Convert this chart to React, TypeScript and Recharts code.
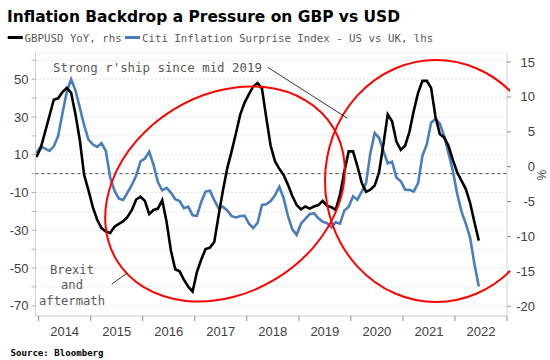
import React from 'react';
import { LineChart, Line, XAxis, YAxis, CartesianGrid, ReferenceLine } from 'recharts';

// monthly, Dec 2013 .. Jun 2022
const START_YEAR = 2013;
const START_MONTH = 12;

// GBPUSD YoY %, rhs
const gbpusdYoY = [
  1.4,
  2.7, 5.0, 7.3, 9.6, 9.8, 10.7, 11.3, 10.6, 7.5, 3.8, -1.2, -3.4, // 2014
  -5.8, -7.6, -8.8, -9.3, -9.5, -8.6, -8.2, -7.8, -7.2, -6.2, -4.7, -4.3, // 2015
  -4.9, -6.8, -6.2, -6.0, -4.8, -7.9, -12.0, -14.7, -15.0, -16.2, -17.2, -17.9, // 2016
  -15.1, -13.3, -11.8, -11.6, -10.8, -7.0, -3.4, -0.2, 2.2, 4.8, 7.5, 9.2, // 2017
  10.4, 11.5, 12.0, 11.2, 7.0, 3.0, 0.8, -0.3, -1.2, -2.6, -4.2, -5.5, // 2018
  -6.1, -5.7, -6.0, -5.7, -5.5, -4.9, -5.6, -5.8, -6.2, -4.0, -0.7, 2.2, // 2019
  2.2, 0.1, -2.3, -3.6, -3.3, -2.7, -0.8, 3.2, 7.5, 6.5, 3.6, 2.4, // 2020
  3.0, 5.0, 8.0, 10.6, 12.3, 12.3, 11.3, 7.2, 4.7, 4.2, 3.0, 1.0, // 2021
  -0.8, -2.0, -3.2, -5.2, -8.0, -10.6, // 2022
];

// Citi Inflation Surprise Index - US vs UK, lhs
const citiSurprise = [
  10.8,
  14.4, 13.2, 12.0, 14.5, 20.0, 32.0, 43.4, 50.0, 44.0, 35.0, 25.5, 18.0, // 2014
  15.5, 14.2, 16.1, 12.0, -2.0, -9.0, -13.2, -13.9, -10.0, -6.0, -1.0, 6.5, // 2015
  8.0, 11.6, 4.6, -4.5, -8.8, -7.5, -10.0, -13.5, -14.5, -18.3, -17.5, -22.0, // 2016
  -22.3, -15.0, -9.5, -9.0, -14.0, -18.3, -17.5, -19.5, -22.5, -23.2, -22.4, -22.3, // 2017
  -26.5, -28.8, -26.0, -16.6, -16.2, -14.5, -11.5, -6.9, -13.0, -22.5, -29.5, -32.4, // 2018
  -26.5, -24.0, -21.5, -21.0, -23.6, -25.5, -26.2, -28.5, -25.8, -26.5, -19.5, -17.5, // 2019
  -12.0, -13.8, -9.5, -5.0, 11.0, 21.5, 19.0, 12.0, 5.5, 6.3, -2.0, -4.0, // 2020
  -8.5, -8.6, -9.5, -5.0, 9.5, 15.5, 27.0, 29.0, 26.5, 20.0, 11.0, 1.5, // 2021
  -10.5, -20.0, -26.5, -34.0, -48.0, -59.8, // 2022
];

const yearLabels = [2014, 2015, 2016, 2017, 2018, 2019, 2020, 2021, 2022];
const yearBreaks = [2014, 2015, 2016, 2017, 2018, 2019, 2020, 2021, 2022, 2023];
const leftTicks = [60, 50, 40, 30, 20, 10, 0, -10, -20, -30, -40, -50, -60, -70];
const leftLabels = [50, 30, 10, -10, -30, -50, -70];
const rightTicks = [15, 10, 5, 0, -5, -10, -15, -20];

const data = gbpusdYoY.map((v, i) => ({
  t: START_YEAR + (START_MONTH - 1 + i + 0.5) / 12,
  gbp: v,
  citi: citiSurprise[i],
}));

const xTicks = [...yearBreaks, ...yearLabels.map(y => y + 0.5)].sort((a, b) => a - b);

const LABEL_FONT = '"Liberation Sans", Arial, sans-serif';
const MONO = '"DejaVu Sans Mono", monospace';
const PLOT_TOP = 53;
const PLOT_BOTTOM = 316;
const PLOT_LEFT = 35.5;
const PLOT_RIGHT = 507;

const XTick = (props: any) => {
  const { x, payload } = props;
  const v = payload.value;
  if (Number.isInteger(v)) {
    return <line x1={x} x2={x} y1={PLOT_BOTTOM} y2={PLOT_BOTTOM + 5} stroke="#8c8c8c" strokeWidth={1} />;
  }
  return (
    <text x={x} y={336} textAnchor="middle" fontFamily={LABEL_FONT} fontSize={13} fill="#404040">
      {Math.floor(v)}
    </text>
  );
};

const LeftTick = (props: any) => {
  const { y, payload } = props;
  return (
    <g>
      <line x1={PLOT_LEFT - 4} x2={PLOT_LEFT} y1={y} y2={y} stroke="#b0b0b0" />
      {leftLabels.includes(payload.value) && (
        <text x={28.5} y={y + 4.5} textAnchor="end" fontFamily={LABEL_FONT} fontSize={13} fill="#404040">
          {payload.value}
        </text>
      )}
    </g>
  );
};

const RightTick = (props: any) => {
  const { y, payload } = props;
  return (
    <g>
      <line x1={PLOT_RIGHT} x2={PLOT_RIGHT + 4} y1={y} y2={y} stroke="#8c8c8c" />
      <text x={535} y={y + 4.5} textAnchor="end" fontFamily={LABEL_FONT} fontSize={13} fill="#404040">
        {payload.value}
      </text>
    </g>
  );
};

const Overlay = () => (
  <svg width={550} height={360} style={{ position: 'absolute', left: 0, top: 0, pointerEvents: 'none' }}>
    <defs>
      <clipPath id="plotClip">
        <rect x={0} y={0} width={510} height={360} />
      </clipPath>
    </defs>
    <text x={7} y={21.5} fontFamily='"DejaVu Sans", sans-serif' fontWeight="bold" fontSize={15}
      textLength={393} lengthAdjust="spacingAndGlyphs" fill="#000">
      Inflation Backdrop a Pressure on GBP vs USD
    </text>

    <line x1={7.7} x2={22.8} y1={37.5} y2={37.5} stroke="#000" strokeWidth={3} />
    <text x={24.6} y={41.5} fontFamily={MONO} fontSize={10.75} fill="#595959">GBPUSD YoY, rhs</text>
    <line x1={125} x2={140} y1={37.5} y2={37.5} stroke="#4a7ebb" strokeWidth={3} />
    <text x={142} y={41.5} fontFamily={MONO} fontSize={10.75} fill="#595959">
      Citi Inflation Surprise Index - US vs UK, lhs
    </text>

    <text x={537} y={175} transform="rotate(90 537 175)" textAnchor="middle" fontFamily={LABEL_FONT}
      fontSize={12} fill="#404040">%</text>

    <g clipPath="url(#plotClip)" fill="none" stroke="#ff0000" strokeWidth={2}>
      <ellipse cx={225} cy={194} rx={127} ry={99} transform="rotate(-32 225 194)" />
      <ellipse cx={436} cy={181} rx={111} ry={121} />
    </g>

    <text x={53} y={72} fontFamily={MONO} fontSize={12.4} fill="#595959">Strong r'ship since mid 2019</text>
    <line x1={268} y1={67.5} x2={347} y2={118} stroke="#000" strokeWidth={0.8} />

    <g fontFamily={MONO} fontSize={12.2} fill="#595959" textAnchor="middle">
      <text x={72} y={273.5}>Brexit</text>
      <text x={72} y={289}>and</text>
      <text x={72} y={304.5}>aftermath</text>
    </g>
    <line x1={111.7} y1={284.3} x2={126.7} y2={273.3} stroke="#000" strokeWidth={0.8} />

    <text x={10.5} y={356} fontFamily={MONO} fontWeight="bold" fontSize={9.1} fill="#000">Source: Bloomberg</text>
  </svg>
);

export default function App() {
  return (
    <div style={{ position: 'absolute', left: 0, top: 0, width: 550, height: 360, background: '#fff' }}>
      <LineChart width={550} height={360} data={data} margin={{ top: PLOT_TOP, right: 0, bottom: 0, left: 0 }}>
        <CartesianGrid yAxisId="left" vertical={false} stroke="#c8c8c8" strokeDasharray="1 3" />
        <XAxis
          dataKey="t"
          type="number"
          domain={[2013.94, 2023]}
          ticks={xTicks}
          interval={0}
          allowDataOverflow
          height={44}
          axisLine={{ stroke: '#d0d0d0' }}
          tickLine={false}
          tick={<XTick />}
        />
        <YAxis
          yAxisId="left"
          orientation="left"
          width={PLOT_LEFT}
          domain={[-75.4, 63.9]}
          ticks={leftTicks}
          interval={0}
          allowDataOverflow
          axisLine={{ stroke: '#d0d0d0' }}
          tickLine={false}
          tick={<LeftTick />}
        />
        <YAxis
          yAxisId="right"
          orientation="right"
          width={550 - PLOT_RIGHT}
          domain={[-21.4, 16.3]}
          ticks={rightTicks}
          interval={0}
          allowDataOverflow
          axisLine={{ stroke: '#d0d0d0' }}
          tickLine={false}
          tick={<RightTick />}
        />
        <ReferenceLine yAxisId="left" y={0} stroke="#505050" strokeDasharray="3 3" />
        <Line yAxisId="left" type="linear" dataKey="citi" stroke="#4a7ebb" strokeWidth={2.6}
          dot={false} isAnimationActive={false} />
        <Line yAxisId="right" type="linear" dataKey="gbp" stroke="#000" strokeWidth={2.6}
          dot={false} isAnimationActive={false} />
      </LineChart>
      <Overlay />
    </div>
  );
}
